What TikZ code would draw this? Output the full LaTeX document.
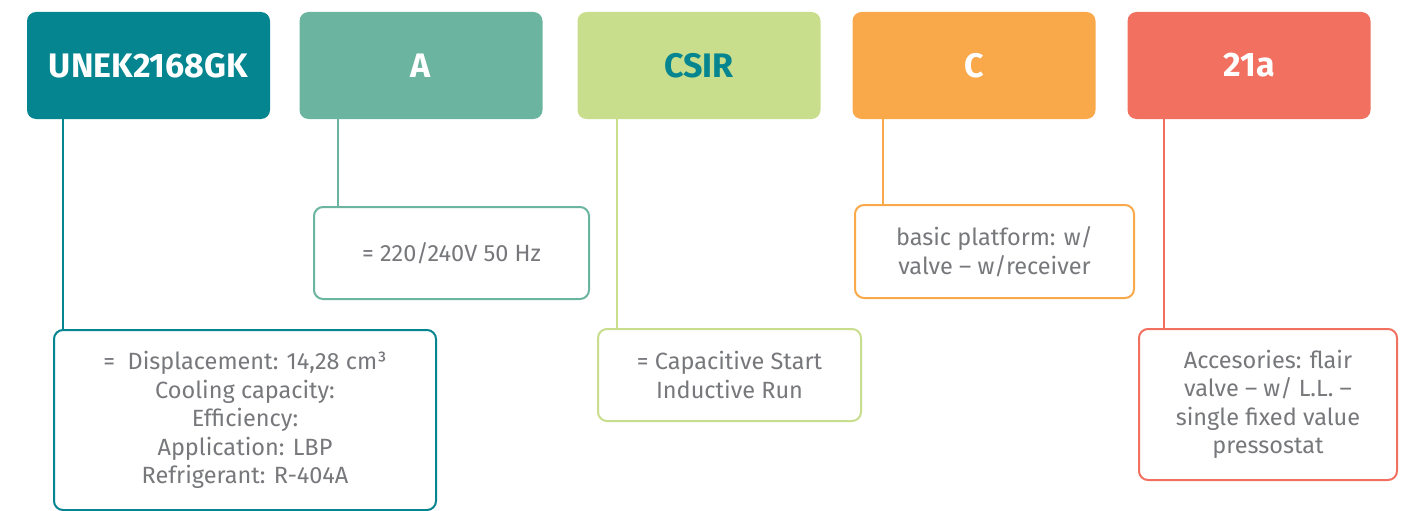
\documentclass[tikz,border=0pt]{standalone}
\usepackage{fontspec}
\setmainfont{Fira Sans}
\definecolor{cA}{HTML}{048590}
\definecolor{cB}{HTML}{6BB5A0}
\definecolor{cC}{HTML}{C8DE8C}
\definecolor{cD}{HTML}{F9A84A}
\definecolor{cE}{HTML}{F27060}
\definecolor{txt}{HTML}{77787B}
\begin{document}
\begin{tikzpicture}[x=1pt,y=-1pt,
  hdr/.style={rectangle,rounded corners=9pt,minimum width=243pt,minimum height=107pt,inner sep=0pt,
    font=\fontsize{34}{40}\selectfont\bfseries,text=white},
  det/.style={rectangle,rounded corners=9pt,draw,line width=2pt,fill=white,inner sep=0pt,align=center,
    text=txt,font=\fontsize{23.5}{28.5}\selectfont},
  conn/.style={line width=2pt}]
\useasboundingbox (0,0) rectangle (1408,511);
% headers
\node[hdr,fill=cA] (h1) at (148.5,65.5) {UNEK2168GK};
\node[hdr,fill=cB] (h2) at (421,65.5) {A};
\node[hdr,fill=cC,text=cA] (h3) at (699,65.5) {CSIR};
\node[hdr,fill=cD] (h4) at (974,65.5) {C};
\node[hdr,fill=cE] (h5) at (1249,65.5) {21a};
% detail boxes
\node[det,draw=cA,minimum width=382pt,minimum height=180pt] (d1) at (245,420)
  {=\ \ Displacement: 14,28 cm³\\Cooling capacity:\\Efficiency:\\Application: LBP\\Refrigerant: R-404A};
\node[det,draw=cB,minimum width=275pt,minimum height=92pt] (d2) at (451.5,253) {= 220/240V 50 Hz};
\node[det,draw=cC,minimum width=263pt,minimum height=92pt] (d3) at (729.5,375) {= Capacitive Start\\Inductive Run};
\node[det,draw=cD,minimum width=279pt,minimum height=93pt] (d4) at (994.5,251.5) {basic platform: w/\\valve -- w/receiver};
\node[det,draw=cE,minimum width=258pt,minimum height=151pt] (d5) at (1268,404.5) {Accesories: flair\\valve -- w/ L.L. --\\single fixed value\\pressostat};
% connectors
\draw[conn,cA] ([xshift=36pt]h1.south west) -- ([xshift=36pt]h1.south west |- d1.north);
\draw[conn,cB] ([xshift=39pt]h2.south west) -- ([xshift=39pt]h2.south west |- d2.north);
\draw[conn,cC] ([xshift=40pt]h3.south west) -- ([xshift=40pt]h3.south west |- d3.north);
\draw[conn,cD] ([xshift=31pt]h4.south west) -- ([xshift=31pt]h4.south west |- d4.north);
\draw[conn,cE] ([xshift=37pt]h5.south west) -- ([xshift=37pt]h5.south west |- d5.north);
\end{tikzpicture}
\end{document}
